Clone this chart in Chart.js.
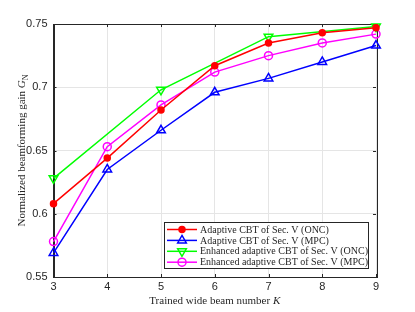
<!DOCTYPE html>
<html>
<head>
<meta charset="utf-8">
<script src="https://cdn.jsdelivr.net/npm/chart.js@4"></script>
<style>
  html, body { margin: 0; padding: 0; background: #fff; }
  #wrap { width: 415px; height: 312px; }
</style>
</head>
<body>
<div id="wrap"><canvas id="myChart" width="415" height="312"></canvas></div>
<script>
// chart data
const beamNumbers = [3, 4, 5, 6, 7, 8, 9];
const adaptiveOnc = [0.608, 0.644, 0.682, 0.717, 0.735, 0.743, 0.747];
const adaptiveMpc = [0.569, 0.635, 0.666, 0.696, 0.707, 0.720, 0.733];
const enhancedOnc = [0.628, null, 0.698, null, 0.740, null, 0.748];
const enhancedMpc = [0.578, 0.653, 0.686, 0.712, 0.725, 0.735, 0.742];
const yTickLabels = ['0.55', '0.6', '0.65', '0.7', '0.75'];
const seriesNames = [
    'Adaptive CBT of Sec. V (ONC)',
    'Adaptive CBT of Sec. V (MPC)',
    'Enhanced adaptive CBT of Sec. V (ONC)',
    'Enhanced adaptive CBT of Sec. V (MPC)'
];

const axisColor = '#262626';
const serif = '"Liberation Serif", "Times New Roman", serif';
const clear = 'rgba(0,0,0,0)';

function series(i, values, color, style, radius, fill, rotation) {
    return {
        label: seriesNames[i],
        data: values.map((v, k) => ({ x: beamNumbers[k], y: v })),
        borderColor: color,
        backgroundColor: fill ? color : clear,
        borderWidth: 1.5,
        pointStyle: style,
        pointRadius: radius,
        pointBorderWidth: 1.5,
        pointBorderColor: color,
        pointBackgroundColor: fill ? color : clear,
        pointRotation: rotation || 0,
        spanGaps: true,
        clip: false,
        tension: 0
    };
}

// box, inward ticks, axis titles, legend
const matlabLook = {
    id: 'matlabLook',
    beforeDatasetsDraw(chart) {
        const c = chart.ctx;
        const a = chart.chartArea;
        const xs = chart.scales.x, ys = chart.scales.y;
        c.save();
        c.strokeStyle = axisColor;
        c.lineWidth = 1;
        c.beginPath();
        xs.ticks.forEach(t => {
            const px = Math.round(xs.getPixelForValue(t.value)) + 0.5;
            c.moveTo(px, a.bottom); c.lineTo(px, a.bottom - 3);
            c.moveTo(px, a.top); c.lineTo(px, a.top + 3);
        });
        ys.ticks.forEach(t => {
            const py = Math.round(ys.getPixelForValue(t.value)) + 0.5;
            c.moveTo(a.left, py); c.lineTo(a.left + 3, py);
            c.moveTo(a.right, py); c.lineTo(a.right - 3, py);
        });
        c.stroke();
        c.strokeRect(Math.round(a.left) + 0.5, Math.round(a.top) + 0.5,
            Math.round(a.right - a.left), Math.round(a.bottom - a.top));
        c.restore();
    },
    afterDraw(chart) {
        const c = chart.ctx;
        const a = chart.chartArea;
        c.save();

        // x title
        c.fillStyle = axisColor;
        c.textBaseline = 'alphabetic';
        c.textAlign = 'left';
        const xt = 'Trained wide beam number ';
        c.font = '11px ' + serif;
        const w1 = c.measureText(xt).width;
        c.font = 'italic 11px ' + serif;
        const w2 = c.measureText('K').width;
        const sx = (a.left + a.right) / 2 - (w1 + w2) / 2;
        c.font = '11px ' + serif;
        c.fillText(xt, sx, 304);
        c.font = 'italic 11px ' + serif;
        c.fillText('K', sx + w1, 304);

        // y title
        c.translate(25, (a.top + a.bottom) / 2);
        c.rotate(-Math.PI / 2);
        const yt = 'Normalized beamforming gain ';
        c.font = '11px ' + serif;
        const v1 = c.measureText(yt).width;
        c.font = 'italic 11px ' + serif;
        const v2 = c.measureText('G').width;
        c.font = '8px ' + serif;
        const v3 = c.measureText('N').width;
        const sy = -(v1 + v2 + v3) / 2;
        c.font = '11px ' + serif;
        c.fillText(yt, sy, 0);
        c.font = 'italic 11px ' + serif;
        c.fillText('G', sy + v1, 0);
        c.font = '8px ' + serif;
        c.fillText('N', sy + v1 + v2, 2.5);
        c.setTransform(1, 0, 0, 1, 0, 0);

        // legend
        const lx = 164.5, ly = 222.5, lw = 204, lh = 46;
        c.fillStyle = '#fff';
        c.fillRect(lx, ly, lw, lh);
        c.strokeStyle = axisColor;
        c.lineWidth = 1;
        c.strokeRect(lx, ly, lw, lh);
        c.font = '10px ' + serif;
        c.textBaseline = 'middle';
        chart.data.datasets.forEach((ds, i) => {
            const y = 229.5 + i * 10.9;
            c.strokeStyle = ds.borderColor;
            c.lineWidth = 1.5;
            c.beginPath();
            c.moveTo(167, y); c.lineTo(197, y);
            c.stroke();
            c.fillStyle = ds.pointBackgroundColor;
            Chart.helpers.drawPoint(c, {
                pointStyle: ds.pointStyle,
                radius: ds.pointRadius,
                rotation: ds.pointRotation,
                borderWidth: 1.5
            }, 182, y);
            c.fillStyle = axisColor;
            c.fillText(ds.label, 200, y + 0.5);
        });
        c.restore();
    }
};

const ctx = document.getElementById('myChart').getContext('2d');
const myChart = new Chart(ctx, {
    type: 'line',
    data: {
        datasets: [
            series(0, adaptiveOnc, '#ff0000', 'circle', 3, true),
            series(1, adaptiveMpc, '#0000ff', 'triangle', 5, false),
            series(2, enhancedOnc, '#00ff00', 'triangle', 5, false, 180),
            series(3, enhancedMpc, '#ff00ff', 'circle', 4, false)
        ]
    },
    options: {
        responsive: false,
        animation: false,
        layout: { padding: { top: 24, right: 39, left: 0, bottom: 0 } },
        plugins: {
            legend: { display: false },
            tooltip: { enabled: false }
        },
        scales: {
            x: {
                type: 'linear',
                min: 3,
                max: 9,
                afterFit: s => { s.height = 35; },
                ticks: {
                    stepSize: 1,
                    color: axisColor,
                    font: { family: '"Liberation Sans", Arial, sans-serif', size: 11 },
                    padding: 3
                },
                grid: { color: '#e5e5e5', drawTicks: false },
                border: { color: axisColor }
            },
            y: {
                min: 0.55,
                max: 0.75,
                afterFit: s => { s.width = 53.5; },
                afterBuildTicks: s => {
                    s.ticks = yTickLabels.map(t => ({ value: parseFloat(t) }));
                },
                ticks: {
                    color: axisColor,
                    font: { family: '"Liberation Sans", Arial, sans-serif', size: 11 },
                    padding: 6,
                    callback: (v, i) => yTickLabels[i]
                },
                grid: { color: '#e5e5e5', drawTicks: false },
                border: { color: axisColor }
            }
        }
    },
    plugins: [matlabLook]
});
</script>
</body>
</html>
